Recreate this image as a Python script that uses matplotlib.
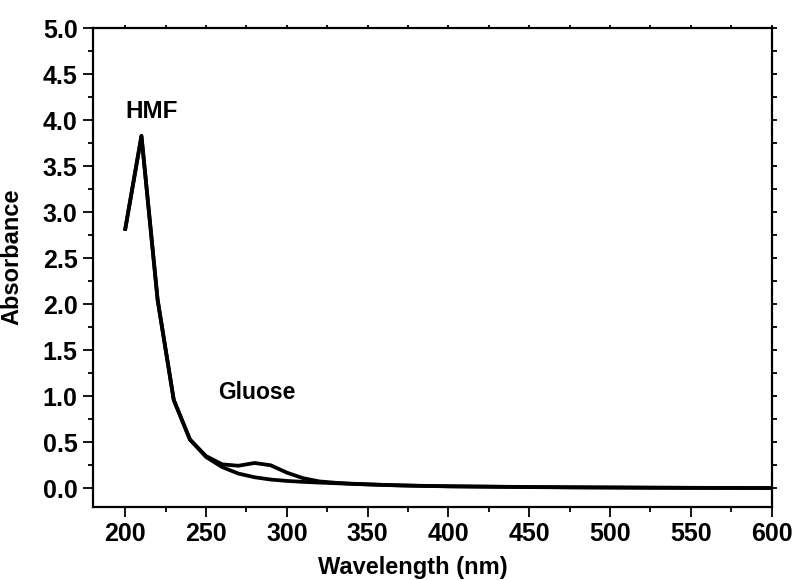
import matplotlib
matplotlib.use("Agg")
import matplotlib.pyplot as plt
from matplotlib.ticker import MultipleLocator

plt.rcParams['font.family'] = ['Liberation Sans', 'DejaVu Sans']
plt.rcParams['font.weight'] = 'bold'

# wavelengths (nm)
wavelength = [200, 210, 220, 230, 240, 250, 260, 270, 280, 290, 300, 310, 320, 330,
              340, 350, 360, 370, 380, 390, 400, 425, 450, 475, 500, 525, 550, 575, 600]

# HMF absorbance (lower curve)
hmf = [2.82, 3.83, 2.05, 0.96, 0.53, 0.34, 0.23, 0.16, 0.12, 0.095, 0.08, 0.07, 0.062, 0.055,
       0.048, 0.042, 0.036, 0.031, 0.027, 0.024, 0.021, 0.017, 0.013, 0.010, 0.008, 0.006, 0.005, 0.004, 0.003]

# glucose absorbance (curve with the 280 nm bump)
glucose = [2.82, 3.83, 2.05, 0.96, 0.53, 0.35, 0.26, 0.245, 0.275, 0.25, 0.17, 0.11, 0.075, 0.06,
           0.05, 0.043, 0.037, 0.032, 0.028, 0.025, 0.022, 0.018, 0.014, 0.011, 0.009, 0.007, 0.005, 0.004, 0.003]

fig = plt.figure(figsize=(7.98, 5.8), dpi=100)
ax = fig.add_axes([0.1165, 0.1264, 0.8505, 0.8248])

ax.plot(wavelength, hmf, color='black', lw=2.7, solid_joinstyle='round')
ax.plot(wavelength, glucose, color='black', lw=2.7, solid_joinstyle='round')

ax.set_xlim(180, 600)
ax.set_ylim(-0.2, 5.0)
ax.xaxis.set_minor_locator(MultipleLocator(25))
ax.yaxis.set_major_locator(MultipleLocator(0.5))
ax.yaxis.set_minor_locator(MultipleLocator(0.25))
ax.set_xticks(range(200, 601, 50))
ax.yaxis.set_major_formatter(matplotlib.ticker.FormatStrFormatter('%.1f'))

for s in ax.spines.values():
    s.set_linewidth(1.6)

ax.tick_params(which='major', direction='out', length=7, width=1.3, labelsize=18, pad=4)
ax.tick_params(which='minor', direction='out', length=3.6, width=1.3)
ax.tick_params(which='both', top=True, right=True)

# top and right axes only get short ticks
for t in ax.xaxis.get_major_ticks():
    t.tick2line.set_markersize(2)
for t in ax.xaxis.get_minor_ticks():
    t.tick2line.set_markersize(2)
for t in ax.yaxis.get_major_ticks():
    t.tick2line.set_markersize(3.6)

ax.set_xlabel('Wavelength (nm)', fontsize=17, fontweight='bold')
ax.set_ylabel('Absorbance', fontsize=17, fontweight='bold')
ax.xaxis.set_label_coords(0.471, -0.103)
ax.yaxis.set_label_coords(-0.102, 0.523)

ax.text(200, 4.02, 'HMF', fontsize=17.5, fontweight='bold', ha='left', va='baseline')
ax.text(257.5, 0.97, 'Gluose', fontsize=16.5, fontweight='bold', ha='left', va='baseline')

fig.savefig('out.png', dpi=100)
